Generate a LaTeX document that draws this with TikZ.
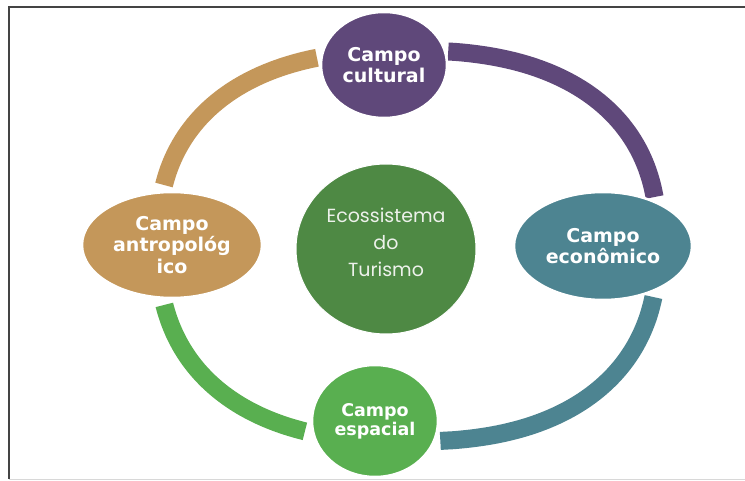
\documentclass[tikz,border=0pt]{standalone}
\usepackage{fontspec}
\usetikzlibrary{shapes.geometric}
\newfontfamily\labfont{DejaVu Sans}
\newfontfamily\ctrfont{Poppins}
\definecolor{cpurple}{HTML}{5F487A}
\definecolor{ctan}{HTML}{C4975A}
\definecolor{cteal}{HTML}{4D8491}
\definecolor{cgreen}{HTML}{59AF50}
\definecolor{cdark}{HTML}{4E8944}
\definecolor{ctext}{HTML}{EDF1EB}
\definecolor{frameline}{HTML}{444444}
\definecolor{framelight}{HTML}{D8D8D8}
\begin{document}
\begin{tikzpicture}[x=1pt,y=-1pt,
  ringseg/.style={line width=18pt, line cap=butt},
  campo/.style={ellipse, inner sep=0pt, draw=white, line width=2.5pt, text=white,
    align=center, font=\labfont\bfseries\fontsize{19}{21.5}\selectfont},
  hub/.style={ellipse, inner sep=0pt, draw=white, line width=1pt, text=ctext,
    align=center, text depth=13pt, font=\ctrfont\fontsize{19}{27}\selectfont}]
\useasboundingbox (0,0) rectangle (745,481);
\fill[white] (0,0) rectangle (745,481);
% frame
\draw[frameline, line width=2pt] (745,7) -- (9,7) -- (9,479);
\draw[framelight, line width=1pt] (9,479.5) -- (745,479.5);
% ring segments (rounded superellipse)
\draw[ringseg, cpurple] plot[domain=10.4:83.6, samples=60, variable=\t]
  ({408+250*pow(cos(\t),0.833)}, {243.5-193*pow(sin(\t),0.833)});
\draw[ringseg, ctan] plot[domain=107.3:166.2, samples=60, variable=\t]
  ({408-250*pow(-cos(\t),0.833)}, {243.5-193*pow(sin(\t),0.833)});
\draw[ringseg, cgreen] plot[domain=194.2:249.8, samples=60, variable=\t]
  ({408-250*pow(-cos(\t),0.833)}, {243.5+198*pow(-sin(\t),0.833)});
\draw[ringseg, cteal] plot[domain=274.9:348, samples=60, variable=\t]
  ({408+250*pow(cos(\t),0.833)}, {243.5+198*pow(-sin(\t),0.833)});
% nodes
\node[hub, fill=cdark, minimum width=180pt, minimum height=170pt] (eco) at (386,249)
  {Ecossistema\\do\\Turismo};
\node[campo, fill=cpurple, minimum width=126pt, minimum height=106pt] (cult) at (384,65)
  {Campo\\cultural};
\node[campo, fill=ctan, minimum width=180pt, minimum height=106pt] (antr) at (172,245)
  {Campo\\antropológ\\ico};
\node[campo, fill=cteal, minimum width=178pt, minimum height=108pt] (econ) at (603,246)
  {Campo\\econômico};
\node[campo, fill=cgreen, minimum width=126pt, minimum height=112pt,
  font=\labfont\bfseries\fontsize{17.5}{19}\selectfont] (esp) at (375,421)
  {Campo\\espacial};
\end{tikzpicture}
\end{document}
